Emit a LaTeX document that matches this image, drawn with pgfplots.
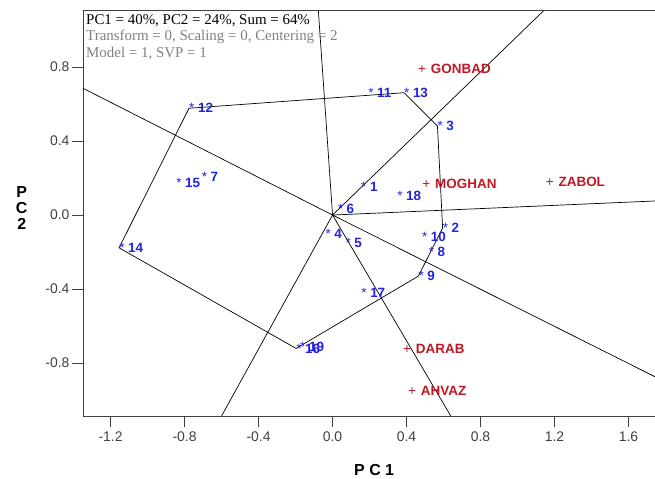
\documentclass[border=0pt]{standalone}
\usepackage{pgfplots}
\pgfplotsset{compat=1.18}
\usepackage{fontspec}
\setmainfont{Liberation Sans}
\newfontfamily\seriffont{Liberation Serif}
\definecolor{gblue}{RGB}{35,35,225}
\definecolor{ered}{RGB}{190,25,35}
\definecolor{tickgray}{RGB}{64,64,64}
\definecolor{txtgray}{RGB}{128,128,128}

\pgfplotstableread{
x y label
0.154 0.154 1
0.595 -0.070 2
0.567 0.481 3
-0.039 -0.103 4
0.069 -0.149 5
0.027 0.036 6
-0.708 0.208 7
0.519 -0.198 8
0.464 -0.330 9
0.483 -0.117 10
0.192 0.659 11
-0.776 0.577 12
0.386 0.661 13
-1.154 -0.177 14
-0.846 0.176 15
-0.197 -0.721 16
0.155 -0.419 17
0.349 0.103 18
-0.176 -0.714 19
}\genotypes

\pgfplotstableread{
x y label
0.482 0.788 GONBAD
0.505 0.171 MOGHAN
1.172 0.180 ZABOL
0.401 -0.721 DARAB
0.428 -0.950 AHVAZ
}\environments

\begin{document}
\begin{tikzpicture}
\begin{axis}[
  scale only axis, width=572bp, height=406bp,
  xmin=-1.349, xmax=1.743, ymin=-1.086, ymax=1.108,
  axis x line*=bottom, axis y line*=left,
  axis line style={draw=tickgray, line width=0.9pt},
  tick align=outside, major tick length=11bp,
  tick style={draw=tickgray, line width=0.9pt},
  xtick={-1.2,-0.8,-0.4,0,0.4,0.8,1.2,1.6},
  xticklabels={-1.2,-0.8,-0.4,0.0,0.4,0.8,1.2,1.6},
  ytick={-0.8,-0.4,0,0.4,0.8},
  yticklabels={-0.8,-0.4,0.0,0.4,0.8},
  ticklabel style={font=\fontsize{14}{14}\selectfont, text=tickgray},
  yticklabel style={xshift=1bp},
  xticklabel style={yshift=-1bp},
  every axis x label/.style={at={(rel axis cs:0.509,0)}, anchor=center, yshift=-54bp, font=\fontsize{16}{16}\selectfont\bfseries},
  every axis y label/.style={at={(rel axis cs:0,0.512)}, anchor=center, xshift=-61.3bp, align=center, font=\fontsize{16}{16}\selectfont\bfseries},
  xlabel={P C 1}, ylabel={P\\C\\2},
  clip=true,
]
\coordinate (O) at (rel axis cs:0,0);
% polygon hull
\addplot[black, line width=0.7bp] coordinates {(-0.776,0.577) (0.386,0.661) (0.567,0.481) (0.595,-0.070) (0.464,-0.330) (-0.197,-0.721) (-1.154,-0.177) (-0.776,0.577)};
% sector rays
\addplot[black, line width=0.7bp] coordinates {(0,0) (-0.077,1.108)};
\addplot[black, line width=0.7bp] coordinates {(0,0) (1.145,1.108)};
\addplot[black, line width=0.7bp] coordinates {(0,0) (1.743,0.076)};
\addplot[black, line width=0.7bp] coordinates {(0,0) (1.743,-0.874)};
\addplot[black, line width=0.7bp] coordinates {(0,0) (0.639,-1.086)};
\addplot[black, line width=0.7bp] coordinates {(0,0) (-0.600,-1.086)};
\addplot[black, line width=0.7bp] coordinates {(0,0) (-1.349,0.685)};
% genotypes
\addplot[draw=none, mark=none, nodes near coords={{\mdseries*}\hspace{3.6bp}\pgfplotspointmeta}, point meta=explicit symbolic,
  nodes near coords style={anchor=west, inner sep=0pt, text=gblue, font=\fontsize{13.5}{13.5}\selectfont\bfseries}]
  table[x=x, y=y, meta=label] {\genotypes};
% environments
\addplot[draw=none, mark=none, nodes near coords={{\mdseries+}\hspace{5bp}\pgfplotspointmeta}, point meta=explicit symbolic,
  nodes near coords style={anchor=west, inner sep=0pt, xshift=-3.8bp, text=ered, font=\fontsize{13.5}{13.5}\selectfont\bfseries}]
  table[x=x, y=y, meta=label] {\environments};
\draw[tickgray, line width=0.9pt] (rel axis cs:0,1) -- (rel axis cs:1,1);
\node[anchor=north west, inner sep=0pt, align=left, font=\seriffont\fontsize{15}{16.5}\selectfont] at ([xshift=3bp,yshift=-4bp]rel axis cs:0,1)
  {PC1 = 40\%, PC2 = 24\%, Sum = 64\%\\
   \textcolor{txtgray}{Transform = 0, Scaling = 0, Centering = 2}\\
   \textcolor{txtgray}{Model = 1, SVP = 1}};
\end{axis}
\pgfresetboundingbox
\path[use as bounding box] ([xshift=-83bp,yshift=-63bp]O) rectangle ([xshift=572bp,yshift=416bp]O);
\end{tikzpicture}
\end{document}
